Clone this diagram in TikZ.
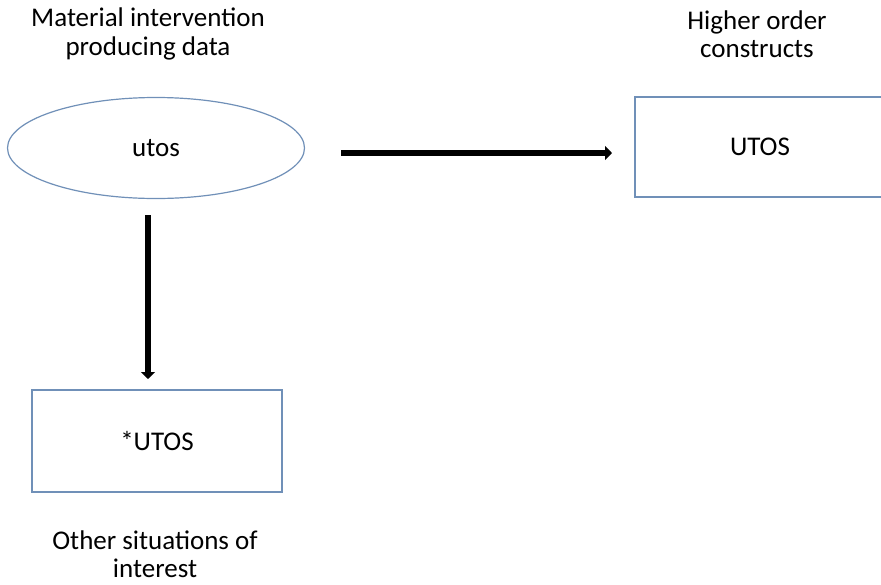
\documentclass[tikz,border=0pt]{standalone}
\usepackage{fontspec}
\setmainfont{Carlito}
\usetikzlibrary{shapes.geometric,arrows.meta}
\definecolor{edgeblue}{HTML}{7090B8}
\tikzset{
  shapebox/.style={draw=edgeblue, line width=1.2pt, fill=white, font=\fontsize{27}{30}\selectfont},
  caption/.style={font=\fontsize{27}{28.5}\selectfont, align=center},
  bigarrow/.style={line width=5.5pt, -{Triangle[length=7pt,width=14pt]}, black}
}
\begin{document}
\begin{tikzpicture}[x=1pt,y=-1pt]
\useasboundingbox (0,0) rectangle (881,584);
\node[shapebox, ellipse, minimum width=297pt, minimum height=101pt, inner sep=0pt] (e) at (156,148) {utos};
\node[shapebox, rectangle, minimum width=250pt, minimum height=100pt, inner sep=0pt] (r) at (760,147) {UTOS};
\node[shapebox, rectangle, minimum width=250pt, minimum height=102pt, inner sep=0pt] (b) at (157,441) {*UTOS};
\node[caption] (t1) at (148,34) {Material intervention\\producing data};
\node[caption] (t2) at (757,34) {Higher order\\constructs};
\node[caption] (t3) at (155,554) {Other situations of\\interest};
\coordinate (hs) at (341,153);
\coordinate (he) at (612,153);
\coordinate (vs) at (148,215);
\coordinate (ve) at (148,379);
\draw[bigarrow] (hs) -- (he);
\draw[bigarrow] (vs) -- (ve);
\end{tikzpicture}
\end{document}
